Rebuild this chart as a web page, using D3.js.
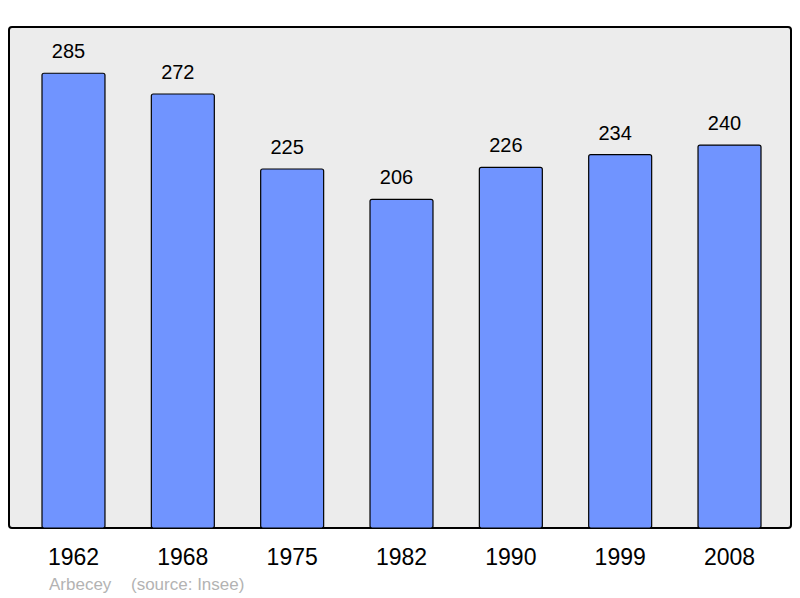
<!DOCTYPE html>
<html>
<head>
<meta charset="utf-8">
<script src="https://cdn.jsdelivr.net/npm/d3@7"></script>
<style>
  body { margin: 0; background: #fff; }
  text { font-family: "Liberation Sans", Arial, sans-serif; }
</style>
</head>
<body>
<svg id="chart" width="800" height="598"></svg>
<script>
// population by census year
var years = ["1962", "1968", "1975", "1982", "1990", "1999", "2008"];
var population = [285, 272, 225, 206, 226, 234, 240];
var commune = "Arbecey";
var source = "(source: Insee)";

var svg = d3.select("#chart");

var frame = {left: 9, top: 27, right: 791, bottom: 528};

// scales
var x = d3.scaleBand()
    .domain(years)
    .range([42, 761])
    .paddingInner(0.424)
    .paddingOuter(0);
var y = d3.scaleLinear()
    .domain([0, 314])
    .range([frame.bottom, frame.top]);

// background frame
svg.append("rect")
    .attr("x", frame.left)
    .attr("y", frame.top)
    .attr("width", frame.right - frame.left)
    .attr("height", frame.bottom - frame.top)
    .attr("rx", 3)
    .attr("fill", "#ececec")
    .attr("stroke", "#000")
    .attr("stroke-width", 2);

// bars
svg.selectAll("rect.bar")
    .data(population)
    .enter().append("rect")
    .attr("class", "bar")
    .attr("x", function(d, i) { return x(years[i]); })
    .attr("y", function(d) { return y(d); })
    .attr("width", x.bandwidth())
    .attr("height", function(d) { return y(0) - y(d); })
    .attr("rx", 2)
    .attr("fill", "#7094ff")
    .attr("stroke", "#000")
    .attr("stroke-width", 1.2);

// value labels (sit a little left of the bar centre, like the original)
svg.selectAll("text.val")
    .data(population)
    .enter().append("text")
    .attr("class", "val")
    .attr("x", function(d, i) { return x(years[i]) + x.bandwidth() / 2 - 5; })
    .attr("y", function(d) { return y(d) - 15; })
    .attr("text-anchor", "middle")
    .attr("font-size", 20)
    .attr("fill", "#000")
    .text(function(d) { return d; });

// year axis (no line, labels only)
var axis = svg.append("g")
    .attr("transform", "translate(0," + frame.bottom + ")")
    .call(d3.axisBottom(x).tickSize(0).tickPadding(0));
axis.select(".domain").remove();
axis.selectAll("text")
    .attr("dy", null)
    .attr("y", 37)
    .attr("font-size", 23)
    .attr("font-family", "Liberation Sans, Arial, sans-serif")
    .attr("fill", "#000");

// footer
svg.append("text")
    .attr("x", 49)
    .attr("y", 590)
    .attr("font-size", 17)
    .attr("fill", "#b3b3b3")
    .text(commune);
svg.append("text")
    .attr("x", 131)
    .attr("y", 590)
    .attr("font-size", 17)
    .attr("fill", "#b3b3b3")
    .text(source);
</script>
</body>
</html>
